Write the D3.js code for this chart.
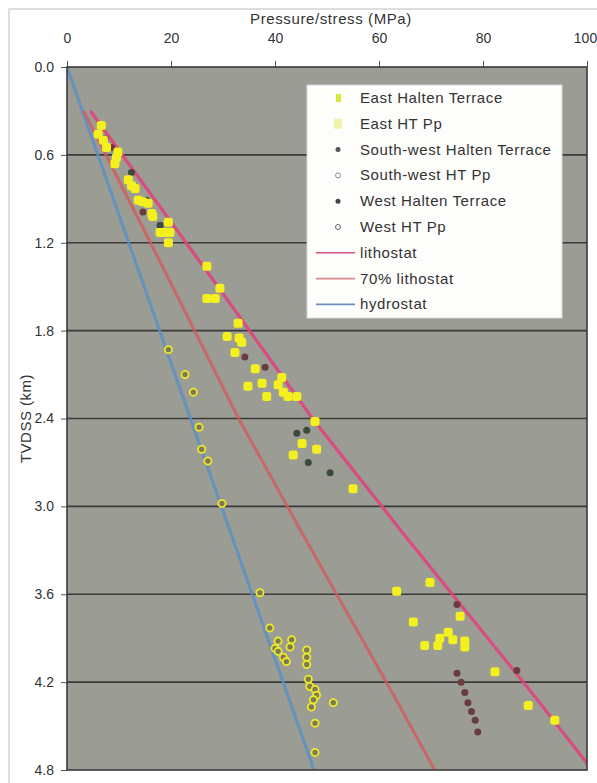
<!DOCTYPE html>
<html><head><meta charset="utf-8">
<script src="https://cdn.jsdelivr.net/npm/d3@7"></script>
<style>
body{margin:0;background:#fff;}
svg text{font-family:"Liberation Sans",Arial,sans-serif;fill:#333;}
</style></head>
<body><svg id="c" width="597" height="783"></svg>
<script>
// ---- data: [pressure MPa, depth km] ----
const xTicks = [0, 20, 40, 60, 80, 100];
const yTicks = [0, 0.6, 1.2, 1.8, 2.4, 3.0, 3.6, 4.2, 4.8];
const legendLabels = ["East Halten Terrace","East HT Pp","South-west Halten Terrace","South-west HT Pp","West Halten Terrace","West HT Pp","lithostat","70% lithostat","hydrostat"];

const eastHT = [[6.6,0.40],[6.0,0.46],[7.0,0.50],[7.6,0.55],[9.8,0.58],[9.5,0.62],[9.2,0.66],[11.8,0.77],[12.4,0.81],[13.1,0.83],[13.7,0.91],[14.6,0.92],[15.6,0.93],[16.3,1.00],[16.5,1.02],[19.5,1.06],[17.9,1.13],[18.8,1.13],[19.8,1.13],[19.5,1.20],
[26.9,1.36],[29.4,1.51],[26.9,1.58],[28.5,1.58],[32.9,1.75],[30.8,1.84],[33.1,1.85],[33.6,1.88],[32.3,1.95],[36.2,2.06],[34.8,2.18],[37.5,2.16],[38.4,2.25],[40.6,2.17],[41.3,2.12],[41.6,2.22],[42.5,2.25],[44.2,2.25],[47.7,2.42],[45.2,2.57],[43.5,2.65],[48.0,2.61],
[55.0,2.88],[63.4,3.58],[69.8,3.52],[75.6,3.75],[66.6,3.79],[73.3,3.86],[71.7,3.90],[74.2,3.91],[76.5,3.92],[68.8,3.95],[71.3,3.95],[76.5,3.96],[82.3,4.13],[88.7,4.36],[93.8,4.46]];
const eastPp = [[19.5,1.93],[22.7,2.10],[24.3,2.22],[25.4,2.46],[25.9,2.61],[27.1,2.69],[29.8,2.98],
[37.1,3.59],[39.0,3.83],[40.6,3.92],[43.2,3.91],[42.9,3.96],[40.0,3.97],[40.6,3.99],[41.6,4.03],[42.2,4.06],[46.1,3.98],[46.1,4.03],[46.1,4.08],[46.4,4.18],[46.7,4.23],[47.7,4.25],[48.0,4.29],[47.4,4.32],[47.0,4.37],[51.2,4.34],[47.7,4.48],[47.7,4.68]];
const swHT = [[7.3,0.49],[12.4,0.72],[15.3,0.91],[17.9,1.08],[44.2,2.50],[46.1,2.48],[46.4,2.70],[50.6,2.77]];
const swPp = [];
const westHT = [[8.6,0.55],[14.6,0.99],[34.2,1.98],[38.1,2.05],[75.0,3.67],[86.5,4.12],[75.0,4.14],[75.8,4.20],[76.5,4.27],[77.1,4.34],[77.8,4.40],[78.5,4.46],[79.0,4.54]];
const westPp = [];
const lithostat = [[4.5,0.30],[27.0,1.40],[47.2,2.40],[65.0,3.20],[90.0,4.30],[101.0,4.80]];
const litho70 = [[3.2,0.30],[18.9,1.40],[33.0,2.40],[45.5,3.20],[63.0,4.30],[70.7,4.80]];
const hydrostat = [[0,0],[47.5,4.80]];

const svg = d3.select("#c");
const x = d3.scaleLinear().domain([0,100]).range([67,587]);
const y = d3.scaleLinear().domain([0,4.8]).range([67,770]);

// outer frame
svg.append("rect").attr("x",9).attr("y",9).attr("width",600).attr("height",790)
  .attr("fill","none").attr("stroke","#c8c8c8").attr("stroke-width",1.2);

// plot background
svg.append("rect").attr("x",x(0)).attr("y",y(0)).attr("width",x(100)-x(0)).attr("height",y(4.8)-y(0))
  .attr("fill","#9b9c94");

svg.append("defs").append("clipPath").attr("id","clip").append("rect")
  .attr("x",x(0)).attr("y",y(0)).attr("width",x(100)-x(0)).attr("height",y(4.8)-y(0));

// gridlines
svg.append("g").selectAll("line").data(yTicks.slice(1,-1)).join("line")
  .attr("x1",x(0)).attr("x2",x(100)).attr("y1",d=>y(d)).attr("y2",d=>y(d))
  .attr("stroke","#3a3b38").attr("stroke-width",1.6);

// axes
const axTop = svg.append("g").attr("transform",`translate(0,${y(0)})`)
  .call(d3.axisTop(x).tickValues(xTicks).tickSize(6).tickPadding(18).tickFormat(d3.format("d")));
const axLeft = svg.append("g").attr("transform",`translate(${x(0)},0)`)
  .call(d3.axisLeft(y).tickValues(yTicks).tickSize(6).tickPadding(7).tickFormat(d3.format(".1f")));
[axTop,axLeft].forEach(g=>{
  g.select(".domain").remove();
  g.selectAll("line").attr("stroke","#555");
  g.selectAll("text").style("font-size","14px").attr("fill","#444").style("font-family","'Liberation Sans',Arial,sans-serif");
});
axTop.selectAll(".tick").filter(d=>d===100).select("text").attr("dx","-2");

svg.append("text").attr("x",331).attr("y",24).attr("text-anchor","middle")
  .style("font-size","15px").style("letter-spacing","0.6px").attr("fill","#444").text("Pressure/stress  (MPa)");
svg.append("text").attr("transform",`translate(31,${(y(0)+y(4.8))/2}) rotate(-90)`).attr("text-anchor","middle")
  .style("font-size","15px").style("letter-spacing","0.5px").attr("fill","#444").text("TVDSS (km)");

// lines
const line = d3.line().x(d=>x(d[0])).y(d=>y(d[1]));
const lg = svg.append("g").attr("clip-path","url(#clip)");
lg.append("path").datum(hydrostat).attr("d",line).attr("fill","none").attr("stroke","#5c8fc4").attr("stroke-width",3).attr("opacity",0.85);
lg.append("path").datum(litho70).attr("d",line).attr("fill","none").attr("stroke","#d45a5a").attr("stroke-width",3).attr("opacity",0.8);
lg.append("path").datum(lithostat).attr("d",line).attr("fill","none").attr("stroke","#e0447c").attr("stroke-width",3.2).attr("opacity",0.9);

// points
const pg = svg.append("g").attr("clip-path","url(#clip)");
pg.selectAll(".sw").data(swHT).join("circle").attr("cx",d=>x(d[0])).attr("cy",d=>y(d[1])).attr("r",3.5).attr("fill","#3c4a3a");
pg.selectAll(".we").data(westHT).join("circle").attr("cx",d=>x(d[0])).attr("cy",d=>y(d[1])).attr("r",3.5).attr("fill","#6a3c3e");
pg.selectAll(".ep").data(eastPp).join("circle").attr("cx",d=>x(d[0])).attr("cy",d=>y(d[1])).attr("r",3.6)
  .attr("fill","#7d7a55").attr("stroke","#ece82a").attr("stroke-width",1.8);
pg.selectAll(".ps").data(swPp.concat(westPp)).join("circle").attr("cx",d=>x(d[0])).attr("cy",d=>y(d[1])).attr("r",3).attr("fill","none").attr("stroke","#666");
pg.selectAll(".eh").data(eastHT).join("rect").attr("x",d=>x(d[0])-4.5).attr("y",d=>y(d[1])-4.5).attr("width",9).attr("height",9)
  .attr("rx",2.5).attr("fill","#f4f020");

// plot border
svg.append("rect").attr("x",x(0)).attr("y",y(0)).attr("width",x(100)-x(0)).attr("height",y(4.8)-y(0))
  .attr("fill","none").attr("stroke","#3a3a3a").attr("stroke-width",1.6);

// legend
const L = svg.append("g");
L.append("rect").attr("x",307).attr("y",85).attr("width",255).attr("height",233).attr("fill","#fdfdfb").attr("stroke","#d8d8d8");
const rowY = i => 98 + i*25.8;
L.selectAll("text").data(legendLabels).join("text").attr("x",360).attr("y",(d,i)=>rowY(i)+5)
  .style("font-size","15px").style("letter-spacing","0.6px").attr("fill","#3a3a3a").text(d=>d);
L.append("rect").attr("x",336).attr("y",rowY(0)-4).attr("width",5).attr("height",8).attr("fill","#d8e83a");
L.append("rect").attr("x",334).attr("y",rowY(1)-5).attr("width",8).attr("height",10).attr("fill","#eef5a8");
L.append("circle").attr("cx",338).attr("cy",rowY(2)).attr("r",2.5).attr("fill","#555");
L.append("circle").attr("cx",338).attr("cy",rowY(3)).attr("r",2.5).attr("fill","none").attr("stroke","#888");
L.append("circle").attr("cx",338).attr("cy",rowY(4)).attr("r",2.5).attr("fill","#444");
L.append("circle").attr("cx",338).attr("cy",rowY(5)).attr("r",2.5).attr("fill","none").attr("stroke","#666");
const legLines = [["#d8507e",6],["#d88a8a",7],["#7090b8",8]];
legLines.forEach(([c,i])=>L.append("line").attr("x1",316).attr("x2",355).attr("y1",rowY(i)).attr("y2",rowY(i)).attr("stroke",c).attr("stroke-width",1.6));
</script></body></html>
